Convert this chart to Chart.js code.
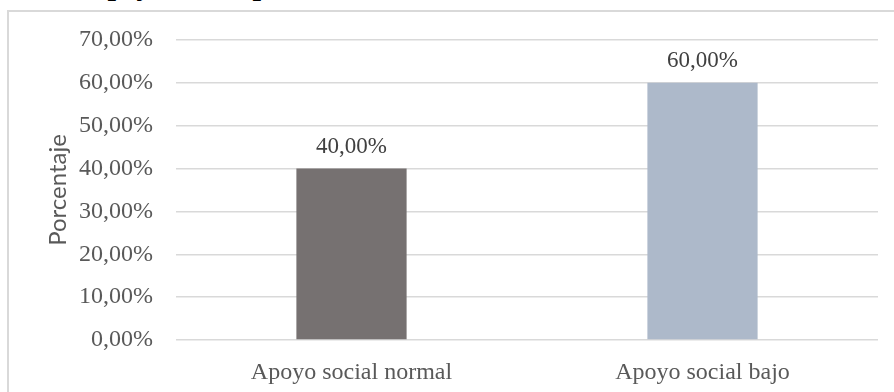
<!DOCTYPE html>
<html lang="es">
<head>
<meta charset="utf-8">
<title>Apoyo social percibido</title>
<script src="https://cdn.jsdelivr.net/npm/chart.js@4.4.1/dist/chart.umd.min.js"></script>
<style>
  html, body { margin: 0; padding: 0; background: #ffffff; overflow: hidden; }
  body { width: 894px; height: 392px; position: relative; }
  #caption {
    position: absolute; left: 90px; top: -30.5px;
    font: italic bold 30px "Liberation Serif", "Times New Roman", serif;
    color: #000; white-space: nowrap; line-height: 30px;
  }
  #frame {
    position: absolute; left: 7px; top: 10px; width: 920px; height: 420px;
    border: 2px solid #d9d9d9; box-sizing: border-box;
  }
  #wrap { position: absolute; left: 0; top: 0; width: 894px; height: 392px; }
</style>
</head>
<body>
<div id="caption">Apoyo social percibido</div>
<div id="frame"></div>
<div id="wrap"><canvas id="chart" width="894" height="392"></canvas></div>
<script>
// Categories and their percentages
const categories = ['Apoyo social normal', 'Apoyo social bajo'];
const percentages = [40, 60];
const barColors = ['#767171', '#adb9ca'];

// Value axis range (percent)
const axisMin = 0;
const axisMax = 70;
const axisStep = 10;

const serif = '"Liberation Serif", "Times New Roman", serif';
const fmtPct = v => Number(v).toFixed(2).replace('.', ',') + '%';

// Writes each bar's value just above its top
const valueLabels = {
  id: 'valueLabels',
  afterDatasetsDraw(chart) {
    const ctx = chart.ctx;
    const meta = chart.getDatasetMeta(0);
    ctx.save();
    ctx.font = '23px ' + serif;
    ctx.fillStyle = '#404040';
    ctx.textAlign = 'center';
    ctx.textBaseline = 'alphabetic';
    meta.data.forEach((bar, i) => {
      ctx.fillText(fmtPct(chart.data.datasets[0].data[i]), bar.x, bar.y - 16);
    });
    ctx.restore();
  }
};

new Chart(document.getElementById('chart'), {
  type: 'bar',
  data: {
    labels: categories,
    datasets: [{
      data: percentages,
      backgroundColor: barColors,
      borderWidth: 0,
      barPercentage: 0.314,
      categoryPercentage: 1
    }]
  },
  options: {
    responsive: false,
    animation: false,
    devicePixelRatio: 1,
    layout: { padding: { left: 0, right: 16, top: 40, bottom: 0 } },
    plugins: { legend: { display: false }, tooltip: { enabled: false } },
    scales: {
      x: {
        grid: { display: false },
        border: { display: false },
        ticks: {
          color: '#595959',
          font: { family: serif, size: 24 },
          padding: 10,
          maxRotation: 0
        },
        afterFit(scale) { scale.height = 52; }
      },
      y: {
        min: axisMin,
        max: axisMax,
        border: { display: false },
        grid: { color: '#d9d9d9', lineWidth: 1.5, drawTicks: false },
        ticks: {
          stepSize: axisStep,
          color: '#595959',
          font: { family: serif, size: 24 },
          padding: 23,
          callback: v => fmtPct(v)
        },
        title: {
          display: true,
          text: 'Porcentaje',
          color: '#595959',
          font: { family: 'Lato, "Open Sans", sans-serif', size: 24 },
          padding: { top: 44, bottom: 0 }
        },
        afterFit(scale) { scale.width = 176; }
      }
    }
  },
  plugins: [valueLabels]
});
</script>
</body>
</html>
